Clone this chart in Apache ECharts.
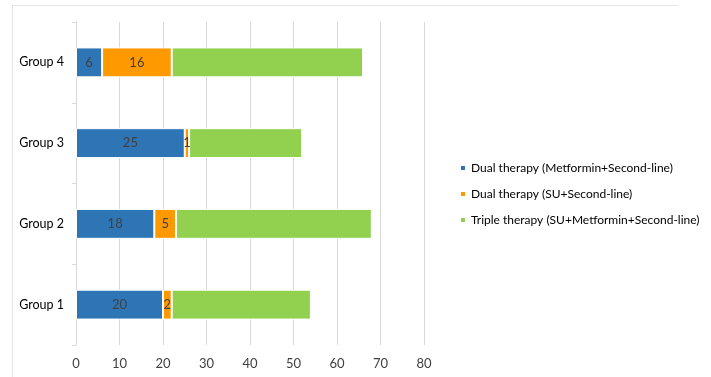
<!DOCTYPE html>
<html>
<head>
<meta charset="utf-8">
<script src="https://cdn.jsdelivr.net/npm/echarts@6/dist/echarts.min.js"></script>
<style>
  html, body { margin: 0; padding: 0; background: #fff; }
  #chart { width: 711px; height: 377px; }
</style>
</head>
<body>
<div id="chart"></div>
<script>
// Patient groups, bottom to top
const groups = ['Group 1', 'Group 2', 'Group 3', 'Group 4'];

// Number of patients per therapy type
const dualMetformin = [20, 18, 25, 6];
const dualSU = [2, 5, 1, 16];
const triple = [32, 45, 26, 44];

const seriesNames = [
  'Dual therapy (Metformin+Second-line)',
  'Dual therapy (SU+Second-line)',
  'Triple therapy (SU+Metformin+Second-line)'
];

// X axis ticks
const xMin = 0, xMax = 80, xStep = 10;

const colors = ['#2e75b6', '#ff9900', '#92d050'];
const fontFamily = 'Lato, "Open Sans", sans-serif';

const chart = echarts.init(document.getElementById('chart'), null, { renderer: 'canvas' });

function barSeries(name, data, idx, showLabel) {
  return {
    name: name,
    type: 'bar',
    stack: 'total',
    data: data,
    barWidth: '37%',
    itemStyle: { color: colors[idx], borderColor: '#ffffff', borderWidth: 1 },
    label: {
      show: showLabel,
      position: 'inside',
      color: '#404040',
      fontSize: 13,
      fontFamily: fontFamily
    },
    emphasis: { disabled: true }
  };
}

chart.setOption({
  animation: false,
  backgroundColor: '#ffffff',
  textStyle: { fontFamily: fontFamily },
  grid: { left: 76, right: 287, top: 22, bottom: 32, containLabel: false },
  xAxis: {
    type: 'value',
    min: xMin,
    max: xMax,
    interval: xStep,
    axisLine: { show: false },
    axisTick: { show: false },
    axisLabel: { color: '#404040', fontSize: 13, margin: 12, fontFamily: fontFamily },
    splitLine: { show: true, lineStyle: { color: '#d9d9d9', width: 1 } }
  },
  yAxis: {
    type: 'category',
    data: groups,
    axisLine: { show: true, lineStyle: { color: '#d9d9d9', width: 1 } },
    axisTick: { show: true, length: 4, lineStyle: { color: '#d9d9d9' } },
    axisLabel: { color: '#000000', fontSize: 12.5, margin: 12, fontFamily: fontFamily }
  },
  legend: {
    orient: 'vertical',
    left: 454,
    top: 157,
    itemWidth: 6,
    itemHeight: 6,
    itemGap: 14,
    icon: 'rect',
    textStyle: { color: '#000000', fontSize: 12, fontFamily: fontFamily },
    data: seriesNames
  },
  graphic: [
    { type: 'line', shape: { x1: 12, y1: 5.5, x2: 678, y2: 5.5 }, style: { stroke: '#e6e6e6', lineWidth: 1 }, silent: true },
    { type: 'line', shape: { x1: 12.5, y1: 5, x2: 12.5, y2: 377 }, style: { stroke: '#e6e6e6', lineWidth: 1 }, silent: true }
  ],
  series: [
    barSeries(seriesNames[0], dualMetformin, 0, true),
    barSeries(seriesNames[1], dualSU, 1, true),
    barSeries(seriesNames[2], triple, 2, false)
  ]
});
</script>
</body>
</html>
